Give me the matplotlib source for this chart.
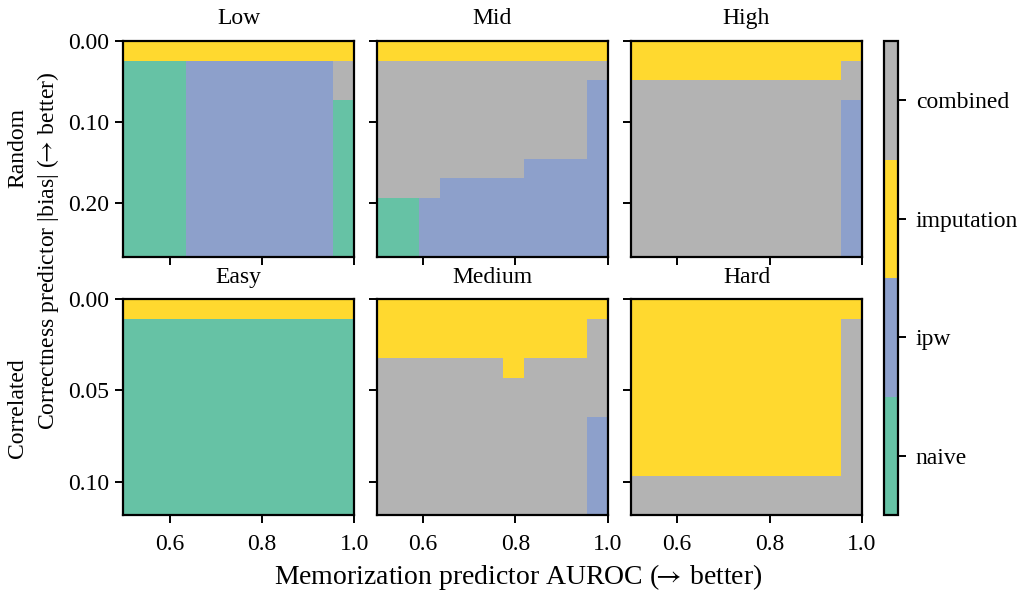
import numpy as np
import matplotlib.pyplot as plt
from matplotlib.colors import ListedColormap, BoundaryNorm

plt.rcParams['font.family'] = ['Liberation Serif', 'DejaVu Serif']
plt.rcParams['mathtext.fontset'] = 'stix'

methods = ['naive', 'ipw', 'imputation', 'combined']
colors = ['#66c2a5', '#8da0cb', '#ffd92f', '#b3b3b3']
code = {'n': 0, 'w': 1, 'm': 2, 'c': 3}

row_names = ['Random', 'Correlated']
col_names = [['Low', 'Mid', 'High'], ['Easy', 'Medium', 'Hard']]
auroc_lo, auroc_hi = 0.5, 1.0
bias_max = [0.267, 0.1183]
yticks = [[0.0, 0.1, 0.2], [0.0, 0.05, 0.1]]

# best method per cell, row 0 = smallest |bias|, columns = AUROC bins
low = ['mmmmmmmmmmm'] + ['nnnwwwwwwwc'] * 2 + ['nnnwwwwwwwn'] * 8
mid = (['mmmmmmmmmmm', 'ccccccccccc'] + ['ccccccccccw'] * 4 +
       ['cccccccwwww', 'cccwwwwwwww'] + ['nnwwwwwwwww'] * 3)
high = ['mmmmmmmmmmm', 'mmmmmmmmmmc', 'ccccccccccc'] + ['ccccccccccw'] * 8
easy = ['mmmmmmmmmmm'] + ['nnnnnnnnnnn'] * 10
medium = (['mmmmmmmmmmm'] + ['mmmmmmmmmmc'] * 2 + ['ccccccmcccc'] +
          ['ccccccccccc'] * 2 + ['ccccccccccw'] * 5)
hard = ['mmmmmmmmmmm'] + ['mmmmmmmmmmc'] * 8 + ['ccccccccccc'] * 2
panels = [[low, mid, high], [easy, medium, hard]]

cmap = ListedColormap(colors)
norm = BoundaryNorm(np.arange(-0.5, 4, 1), 4)

fs = 17
fig = plt.figure(figsize=(10.24, 5.9), dpi=100)
W, H = 1024, 590
lefts = [123.3, 376.7, 631]
tops = [41, 299.3]
aw, ah = 231, 215.7

for r in range(2):
    for c in range(3):
        ax = fig.add_axes([lefts[c] / W, 1 - (tops[r] + ah) / H, aw / W, ah / H])
        grid = np.array([[code[ch] for ch in s] for s in panels[r][c]])
        nr, nc = grid.shape
        xe = np.linspace(auroc_lo, auroc_hi, nc + 1)
        ye = np.linspace(0, bias_max[r], nr + 1)
        ax.pcolormesh(xe, ye, grid, cmap=cmap, norm=norm)
        ax.set_xlim(auroc_lo, auroc_hi)
        ax.set_ylim(bias_max[r], 0)
        ax.set_xticks([0.6, 0.8, 1.0])
        ax.set_yticks(yticks[r])
        ax.set_title(col_names[r][c], fontsize=fs, pad=12)
        ax.tick_params(labelsize=fs, length=6, width=1.4)
        ax.tick_params(axis='x', pad=8)
        ax.tick_params(axis='y', pad=4)
        for sp in ax.spines.values():
            sp.set_linewidth(1.6)
        if r == 0:
            ax.set_xticklabels([])
        else:
            ax.set_xticklabels(['0.6', '0.8', '1.0'])
        if c > 0:
            ax.set_yticklabels([])
        else:
            ax.set_yticklabels(['%.2f' % v for v in yticks[r]])

cax = fig.add_axes([884.3 / W, 1 - 515 / H, 13.4 / W, 474 / H])
sm = plt.cm.ScalarMappable(cmap=cmap, norm=norm)
cb = fig.colorbar(sm, cax=cax, ticks=range(4))
cb.set_ticklabels(methods)
cb.ax.minorticks_off()
cb.ax.tick_params(labelsize=fs, length=6, width=1.4, pad=7)
cb.outline.set_linewidth(1.6)

fig.text(18 / W, 1 - 148 / H, row_names[0], rotation=90, ha='center', va='center', fontsize=fs)
fig.text(18 / W, 1 - 408 / H, row_names[1], rotation=90, ha='center', va='center', fontsize=fs)
fig.text(48 / W, 1 - 251 / H, r'Correctness predictor |bias| ($\!\!\rightarrow\!$ better)', rotation=90,
         ha='center', va='center', fontsize=fs)
fig.text(518 / W, 1 - 577 / H, r'Memorization predictor AUROC ($\!\!\rightarrow\!$ better)', ha='center',
         va='center', fontsize=20)

fig.savefig('out.png', dpi=100)
